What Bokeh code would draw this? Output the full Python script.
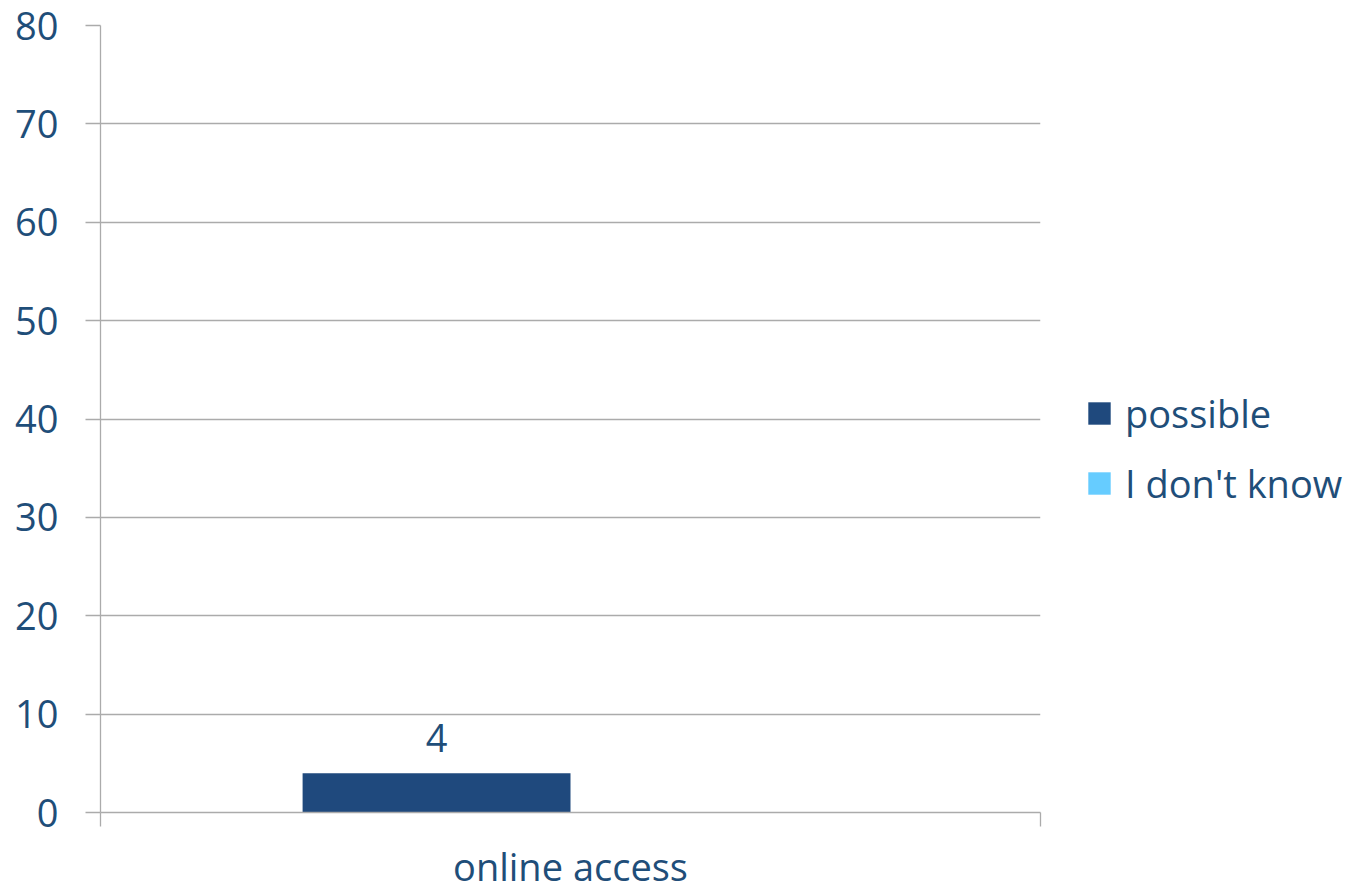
from bokeh.plotting import figure
from bokeh.models import Range1d, FixedTicker, Legend, LegendItem, ColumnDataSource
from bokeh.embed import file_html
from bokeh.resources import INLINE
from bokeh.core.properties import value

categories = ["online access"]
series_names = ["possible", "I don't know"]
possible = [4]
dont_know = [0]
y_ticks = [0, 10, 20, 30, 40, 50, 60, 70, 80]

colors = ["#1F497D", "#66CCFF"]
text_color = "#1F4E79"
grid_color = "#ABABAB"
font = "Open Sans"
fsize = "38px"

n = len(categories)
bar_w = 0.285
centers = [i + 0.5 for i in range(n)]

p = figure(
    output_backend="svg", toolbar_location=None,
    x_range=Range1d(0, n), y_range=Range1d(0, 80),
    frame_width=940, frame_height=787,
    min_border_left=100, min_border_top=25, min_border_bottom=60, min_border_right=10,
    background_fill_color="white", border_fill_color="white", outline_line_color=None,
)

series = [possible, dont_know]
renderers = []
for k, vals in enumerate(series):
    xs = [c + (k - 0.5) * bar_w for c in centers]
    src = ColumnDataSource(dict(x=xs, top=vals))
    r = p.vbar(x="x", top="top", width=bar_w, bottom=0, source=src,
               fill_color=colors[k], line_color=None)
    renderers.append(r)
    lab_src = ColumnDataSource(dict(x=[x for x, v in zip(xs, vals) if v > 0],
                                    y=[v for v in vals if v > 0],
                                    t=[str(v) for v in vals if v > 0]))
    p.text(x="x", y="y", text="t", source=lab_src, text_align="center",
           text_baseline="bottom", y_offset=-21, text_color=text_color,
           text_font=value(font), text_font_size=fsize)

# grid
p.xgrid.visible = False
p.ygrid.ticker = FixedTicker(ticks=y_ticks)
p.ygrid.grid_line_color = grid_color
p.ygrid.grid_line_width = 1.3

# y axis
ya = p.yaxis[0]
ya.ticker = FixedTicker(ticks=y_ticks)
ya.axis_line_color = grid_color
ya.axis_line_width = 1.3
ya.major_tick_line_color = grid_color
ya.major_tick_line_width = 1.3
ya.major_tick_out = 15
ya.major_tick_in = 0
ya.minor_tick_line_color = None
ya.major_label_standoff = 27
ya.major_label_text_font = font
ya.major_label_text_font_size = fsize
ya.major_label_text_color = text_color

# x axis
xa = p.xaxis[0]
xa.ticker = FixedTicker(ticks=centers, minor_ticks=[float(i) for i in range(n + 1)])
xa.major_label_overrides = {c: cat for c, cat in zip(centers, categories)}
xa.axis_line_color = grid_color
xa.axis_line_width = 1.3
xa.major_tick_line_color = None
xa.minor_tick_line_color = grid_color
xa.minor_tick_line_width = 1.3
xa.minor_tick_out = 14
xa.minor_tick_in = 0
xa.major_tick_out = 0
xa.major_label_standoff = 13
xa.major_label_text_font = font
xa.major_label_text_font_size = fsize
xa.major_label_text_color = text_color

legend = Legend(
    items=[LegendItem(label=s, renderers=[r]) for s, r in zip(series_names, renderers)],
    location=(45, 303),
    glyph_width=28, glyph_height=28,
    label_text_font=font, label_text_font_size=fsize, label_text_color=text_color,
    label_standoff=12, spacing=18, padding=0, margin=0,
    border_line_color=None, background_fill_alpha=0,
)
p.add_layout(legend, "right")
p.min_border_right = 320

open("out.html", "w").write(file_html(p, INLINE))
